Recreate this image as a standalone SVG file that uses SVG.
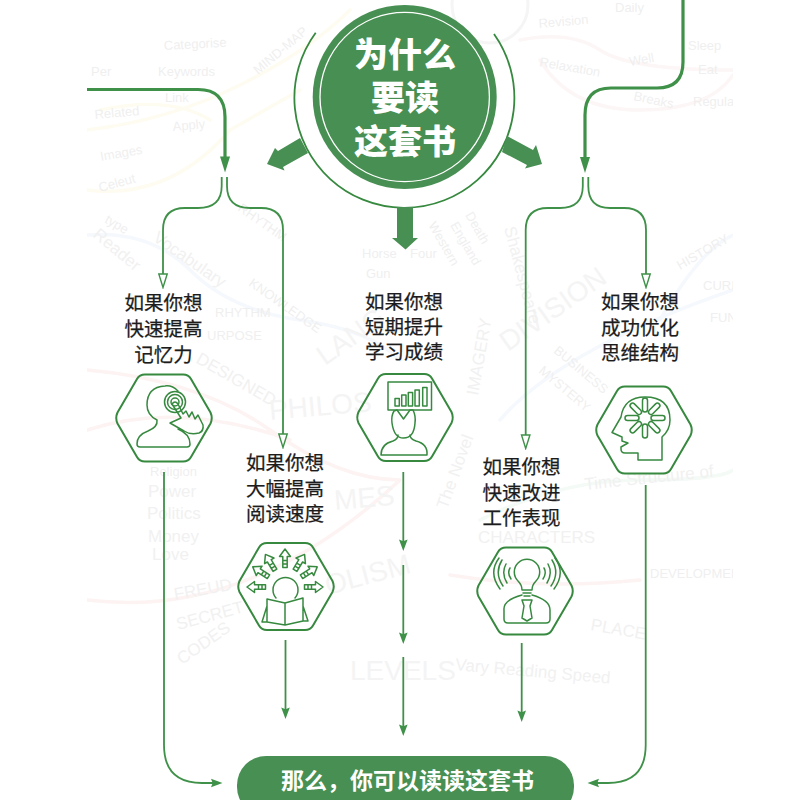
<svg xmlns="http://www.w3.org/2000/svg" width="800" height="800" viewBox="0 0 800 800">
<defs>
<style>
.cn{font-family:"Noto Sans CJK SC","Noto Sans",sans-serif}
.lab{font-size:19.5px;font-weight:400;fill:#1c1c1c;stroke:#1c1c1c;stroke-width:.25;text-anchor:middle}
.ttl{font-size:34px;font-weight:900;fill:#fff;text-anchor:middle}
.ln{fill:none;stroke:#3f9149;stroke-width:1.8}
.th{fill:none;stroke:#3f9149;stroke-width:3.2}
.hex{fill:none;stroke:#36893f;stroke-width:2;stroke-linejoin:round}
.ic{fill:none;stroke:#36893f;stroke-width:1.5;stroke-linejoin:round;stroke-linecap:round}
.blk{fill:#478f52}
.bg{font-family:"Liberation Sans",sans-serif;fill:#efefef;font-size:13px}
.bgh{font-family:"Liberation Sans",sans-serif;fill:#f4f4f4;font-size:28px}
.bgm{font-family:"Liberation Sans",sans-serif;fill:#f1f1f1;font-size:17px}
.cv{fill:none;stroke-width:3.500;stroke-linecap:round}
</style>
<marker id="solid" markerUnits="userSpaceOnUse" markerWidth="14" markerHeight="10" viewBox="-12 -5 14 10" refX="-6" refY="0" orient="auto"><path d="M-11.500 -4.300L0 0L-11.500 4.300L-9.800 0Z" fill="#3f9149"/></marker>
<marker id="solidB" markerUnits="userSpaceOnUse" markerWidth="18" markerHeight="12" viewBox="-17 -6 18 12" refX="-8" refY="0" orient="auto"><path d="M-16 -5L0 0L-16 5Z" fill="#3f9149"/></marker>
<marker id="hollow" markerUnits="userSpaceOnUse" markerWidth="16" markerHeight="12" viewBox="-15 -6 16 12" refX="-13.500" refY="0" orient="auto"><path d="M-13.500 -4.200L0 0L-13.500 4.200Z" fill="#fff" stroke="#3f9149" stroke-width="1.400"/></marker>
<path id="hx" class="hex" d="M-46.500 -5.500L-27 -39Q-24.500 -43.500 -19 -43.500L19 -43.500Q24.500 -43.500 27 -39L46.500 -5.500Q49 0 46.500 5.500L27 39Q24.500 43.500 19 43.500L-19 43.500Q-24.500 43.500 -27 39L-46.500 5.500Q-49 0 -46.500 -5.500Z"/>
<path id="ra" class="ic" d="M0 -38L-5.500 -30.500L-2.200 -30.500L-2.200 -19.500L2.200 -19.500L2.200 -30.500L5.500 -30.500ZM-2.200 -26.500H2.200M-2.200 -23H2.200"/>
<rect id="pill" class="ic" x="-2.500" y="-20" width="5" height="14" rx="2.500"/>
<clipPath id="bgc"><rect x="87" y="0" width="646" height="800"/></clipPath>
</defs>
<rect width="800" height="800" fill="#fff"/>
<g id="background-map" clip-path="url(#bgc)">
<path class="cv" stroke="#fefcf0" d="M87 130Q170 120 240 85T350 10M87 190Q170 200 230 130L300 90M100 110Q170 95 210 120"/>
<path class="cv" stroke="#fdf6f6" d="M520 40Q570 30 600 50T733 70M540 60Q570 110 640 110T733 75"/>
<path class="cv" stroke="#f5f8fc" d="M87 235Q150 230 190 270T300 320T400 360M500 420Q560 350 733 290M660 320Q700 250 733 235"/>
<path class="cv" stroke="#fdf3f3" d="M87 370Q200 380 270 430T400 480M87 430Q180 400 290 440M87 600Q250 620 400 480M450 575Q540 590 640 580"/>
<path class="cv" stroke="#f4faf5" d="M480 520Q560 480 640 480T733 470"/>
<circle cx="490" cy="5" r="38" fill="none" stroke="#f5f5f5" stroke-width="3"/>
<text class="bg" transform="translate(164 50) rotate(-3)">Categorise</text>
<text class="bg" x="158" y="76">Keywords</text>
<text class="bg" x="91" y="76">Per</text>
<text class="bg" x="165" y="102">Link</text>
<text class="bg" transform="translate(95 119) rotate(-5)">Related</text>
<text class="bg" transform="translate(173 131) rotate(-5)">Apply</text>
<text class="bg" transform="translate(101 161) rotate(-10)">Images</text>
<text class="bg" transform="translate(100 192) rotate(-15)">Celeut</text>
<text class="bg" transform="translate(258 75) rotate(-40)">MIND-MAP</text>
<text class="bg" transform="translate(539 28) rotate(-5)">Revision</text>
<text class="bg" x="615" y="12">Daily</text>
<text class="bg" transform="translate(539 66) rotate(10)">Relaxation</text>
<text class="bg" transform="translate(630 66) rotate(-10)">Well</text>
<text class="bg" x="688" y="50">Sleep</text>
<text class="bg" x="698" y="74">Eat</text>
<text class="bg" transform="translate(633 100) rotate(12)">Breaks</text>
<text class="bg" x="693" y="106">Regular</text>
<text class="bg" transform="translate(104 222) rotate(30)" font-size="17">type</text>
<text class="bgm" transform="translate(92 236) rotate(40)">Reader</text>
<text class="bgm" transform="translate(152 240) rotate(35)">Vocabulary</text>
<text class="bg" transform="translate(237 210) rotate(35)">RHYTHM</text>
<text class="bg" transform="translate(248 285) rotate(35)">KNOWLEDGE</text>
<text class="bg" x="215" y="317">RHYTHM</text>
<text class="bg" x="207" y="340">URPOSE</text>
<text class="bgm" transform="translate(195 362) rotate(30)">DESIGNED</text>
<text class="bgh" transform="translate(270 420) rotate(-5)">PHILOS</text>
<text class="bgh" transform="translate(325 366) rotate(-35)" font-size="20">LANG</text>
<text class="bgh" transform="translate(508 352) rotate(-35)">DIVISION</text>
<text class="bgm" transform="translate(478 396) rotate(-80)">IMAGERY</text>
<text class="bg" transform="translate(465 215) rotate(60)" font-size="17">Death</text>
<text class="bg" transform="translate(450 225) rotate(60)" font-size="17">England</text>
<text class="bg" transform="translate(428 225) rotate(60)" font-size="17">Western</text>
<text class="bgm" transform="translate(504 228) rotate(75)">Shakespeare</text>
<text class="bg" x="362" y="258">Horse</text><text class="bg" x="366" y="278">Gun</text><text class="bg" x="410" y="258">Four</text>
<text class="bgh" transform="translate(335 510) rotate(-5)">MES</text>
<text class="bgh" transform="translate(328 595) rotate(-15)">OLISM</text>
<text class="bgm" x="478" y="543" font-size="22">CHARACTERS</text>
<text class="bgm" transform="translate(590 630) rotate(10)">PLACE</text>
<text class="bgh" x="350" y="680" font-size="26">LEVELS</text>
<text class="bgm" transform="translate(455 670) rotate(5)">Vary Reading Speed</text>
<text class="bgm" transform="translate(175 600) rotate(-10)">FREUD</text>
<text class="bgm" transform="translate(178 630) rotate(-15)">SECRET</text>
<text class="bgm" transform="translate(182 665) rotate(-35)">CODES</text>
<text class="bg" x="150" y="476">Religion</text><text class="bgm" x="148" y="497">Power</text><text class="bgm" x="147" y="519">Politics</text><text class="bgm" x="148" y="542">Money</text><text class="bgm" x="152" y="560">Love</text>
<text class="bg" transform="translate(680 270) rotate(-30)">HISTORY</text>
<text class="bg" x="703" y="290">CURIOSITY</text>
<text class="bg" x="710" y="322">FUN</text>
<text class="bg" transform="translate(553 352) rotate(40)">BUSINESS</text>
<text class="bg" transform="translate(538 372) rotate(40)">MYSTERY</text>
<text class="bgm" transform="translate(585 490) rotate(-6)">Time Structure of</text>
<text class="bg" x="650" y="578">DEVELOPMENT</text>
<text class="bgm" transform="translate(447 510) rotate(-70)">The Novel</text>
</g>
<g id="connectors">
<path class="th" d="M87 89.500H198Q225 89.500 225 117V164.500" marker-end="url(#solidB)"/>
<path class="th" d="M683 0V62Q683 88 657 88H611Q585 88 585 115V165" marker-end="url(#solidB)"/>
<path class="ln" d="M221.700 177V186Q221.700 208 198 208H185Q163 208 163 230V274" marker-end="url(#hollow)"/>
<path class="ln" d="M227 177V186Q227 208 250 208H261Q283 208 283 230V434" marker-end="url(#hollow)"/>
<path class="ln" d="M582.800 177V186Q582.800 208 560 208H548Q525.700 208 525.700 230V435" marker-end="url(#hollow)"/>
<path class="ln" d="M588.300 177V186Q588.300 208 610 208H624Q646 208 646 230V274" marker-end="url(#hollow)"/>
<path class="ln" d="M285.500 640V713" marker-end="url(#solid)"/>
<path class="ln" d="M403.300 472V545" marker-end="url(#solid)"/>
<path class="ln" d="M403.300 565V638" marker-end="url(#solid)"/>
<path class="ln" d="M403.300 657V730" marker-end="url(#solid)"/>
<path class="ln" d="M521.700 643V716" marker-end="url(#solid)"/>
<path class="ln" d="M164 472V745Q164 783 202 783H216.500" marker-end="url(#solid)"/>
<path class="ln" d="M645.700 485V745Q645.700 783 608 783H593.500" marker-end="url(#solid)"/>
</g>
<g id="node-why">
<circle class="blk" cx="404.700" cy="97" r="92"/>
<circle cx="404.700" cy="97" r="84.700" fill="none" stroke="#fff" stroke-width="1.300"/>
<path fill="none" stroke="#36893f" stroke-width="1.800" d="M315.700 32.700A110 110 0 1 0 494 34"/>
<path class="blk" d="M300 138L308 153L283 167L284.500 170.500L267 164L275 148L278 151Z"/>
<path class="blk" d="M507 136L502 152L527 165L525 168.500L542 164L536 145L533 150Z"/>
<path class="blk" d="M397 207H413V238H418L405.500 249.500L392 238H397Z"/>
<text class="cn ttl" x="405" y="67">为什么</text>
<text class="cn ttl" x="405" y="110">要读</text>
<text class="cn ttl" x="405" y="154">这套书</text>
</g>
<g id="node-memory">
<text class="cn lab" x="163.500" y="310">如果你想</text><text class="cn lab" x="163.500" y="336">快速提高</text><text class="cn lab" x="163.500" y="362">记忆力</text>
<use href="#hx" x="164" y="418"/>
<path class="ic" d="M178 391Q172 385 165 386Q147 387 147 405Q147 415 157 420Q158 427 148 431Q137 435 137 444Q137 447 140 447H187Q190 447 190 444Q190 434 178 429"/>
<circle class="ic" cx="175" cy="402" r="10.500"/><circle class="ic" cx="175" cy="402" r="7.500"/><circle class="ic" cx="175" cy="402" r="4"/>
<path class="ic" d="M172 404Q175 400 178 404L183 414L186 411L189 417L192 412L195 419L198 415L203 425Q204 431 199 433Q190 435 184 431L170 423L181 418Z" fill="#fff"/>
</g>
<g id="node-reading">
<text class="cn lab" x="285" y="470">如果你想</text><text class="cn lab" x="285" y="496">大幅提高</text><text class="cn lab" x="285" y="521">阅读速度</text>
<use href="#hx" x="286" y="586.500"/>
<path class="ic" d="M276 598A12.500 12.500 0 1 1 295 598"/>
<g transform="translate(285 587)"><use href="#ra" transform="rotate(-90)"/><use href="#ra" transform="rotate(-58)"/><use href="#ra" transform="rotate(-31)"/><use href="#ra"/><use href="#ra" transform="rotate(31)"/><use href="#ra" transform="rotate(58)"/><use href="#ra" transform="rotate(90)"/></g>
<path class="ic" d="M267 599L285 603L303 598V621L285 625L267 622ZM285 603V625M267 606L262 622H267M303 606L308 621H303"/>
</g>
<g id="node-grades">
<text class="cn lab" x="404" y="309">如果你想</text><text class="cn lab" x="404" y="334">短期提升</text><text class="cn lab" x="404" y="359">学习成绩</text>
<use href="#hx" x="405" y="417.500"/>
<rect class="ic" x="388" y="382" width="43.500" height="28"/>
<path class="ic" d="M395 406v-7.500h4.300v7.500zM401.700 406v-11h4.300v11zM408.300 406v-13.500h4.300v13.500zM415 406v-16h4.300v16zM422.700 406v-18.500h4.300v18.500z"/>
<path class="ic" d="M394 411Q391 416 392 423Q394 438 403.500 438Q414 438 415 423Q416 416 413 410L410 410L403.500 419L397 410Z"/>
<path class="ic" d="M398 435Q398 439 393 441Q381 444 381 455H427Q428 444 416 441Q410 439 410 435"/>
</g>
<g id="node-work">
<text class="cn lab" x="521.500" y="474">如果你想</text><text class="cn lab" x="521.500" y="500">快速改进</text><text class="cn lab" x="521.500" y="525">工作表现</text>
<use href="#hx" x="525" y="591"/>
<path class="ic" d="M522 590Q522 585 518 581A12.700 12.700 0 1 1 536 581Q532 585 532 590ZM523 593H531M524 596H530"/>
<path class="ic" d="M502 560Q494 573 503 586M506 564Q501 573 507 583M510 568Q507 573 511 579M499 558Q488 573 500 589"/>
<path class="ic" d="M552 560Q560 573 551 586M548 564Q553 573 547 583M544 568Q547 573 543 579M555 558Q566 573 554 589"/>
<path class="ic" d="M522 595Q503 600 504 610V619Q504 623 508 623H546Q550 623 550 619V610Q550 600 532 595"/>
<path class="ic" d="M522 600H532L530 606L532 618L527 621L522 618L524 606Z"/>
</g>
<g id="node-thinking">
<text class="cn lab" x="640" y="309">如果你想</text><text class="cn lab" x="640" y="335">成功优化</text><text class="cn lab" x="640" y="360">思维结构</text>
<use href="#hx" x="644" y="430"/>
<path class="ic" d="M662 460H638V453L625 453Q621 453 621 449V447L628 443L622 441V437L612 432.500L621 417Q624 397 645 397Q670 397 670 420Q670 430 662 437Z"/>
<g transform="translate(645 418)"><use href="#pill"/><use href="#pill" transform="rotate(45)"/><use href="#pill" transform="rotate(90)"/><use href="#pill" transform="rotate(135)"/><use href="#pill" transform="rotate(180)"/><use href="#pill" transform="rotate(225)"/><use href="#pill" transform="rotate(270)"/><use href="#pill" transform="rotate(315)"/></g>
</g>
<g id="node-conclusion">
<rect class="blk" x="237" y="756" width="337" height="60" rx="29"/>
<text class="cn" x="407.500" y="788.500" text-anchor="middle" fill="#fff" font-size="23" font-weight="700">那么&#65292;你可以读读这套书</text>
</g>
</svg>
